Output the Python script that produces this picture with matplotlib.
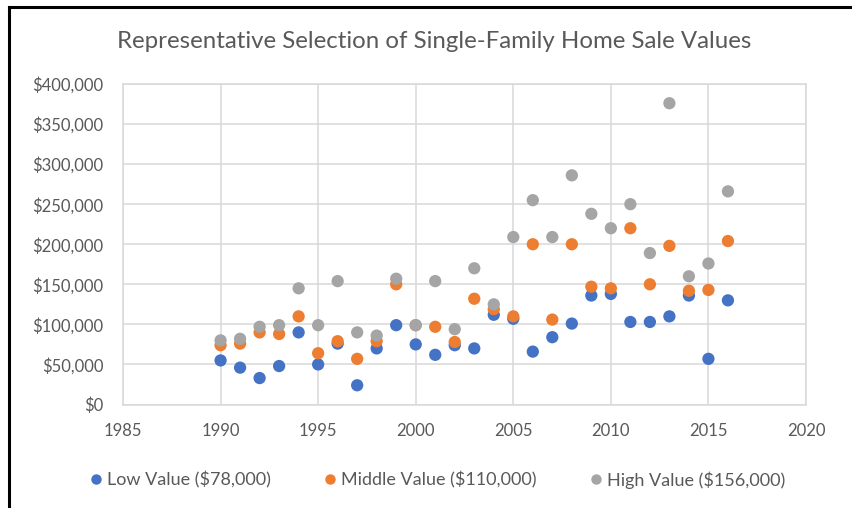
import matplotlib
matplotlib.use("Agg")
import matplotlib.pyplot as plt
from matplotlib.ticker import FuncFormatter, MultipleLocator
from matplotlib.lines import Line2D

years = list(range(1990, 2017))
low_values = [55, 46, 33, 48, 90, 50, 76, 24, 70, 99, 75, 62, 74, 70, 112, 107, 66, 84, 101, 136, 138, 103, 103, 110, 136, 57, 130]
mid_values = [74, 76, 90, 88, 110, 64, 79, 57, 79, 150, 99, 97, 78, 132, 119, 110, 200, 106, 200, 147, 145, 220, 150, 198, 142, 143, 204]
high_values = [80, 82, 97, 99, 145, 99, 154, 90, 86, 157, 99, 154, 94, 170, 125, 209, 255, 209, 286, 238, 220, 250, 189, 376, 160, 176, 266]

series_labels = ["Low Value ($78,000)", "Middle Value ($110,000)", "High Value ($156,000)"]
series_colors = ["#4472C4", "#ED7D31", "#A5A5A5"]
title = "Representative Selection of Single-Family Home Sale Values"

plt.rcParams['font.family'] = ['Lato', 'DejaVu Sans']

fig = plt.figure(figsize=(8.52, 5.08), dpi=100)
ax = fig.add_axes([123/852, 1 - 404.5/508, (806-123)/852, (404.5-84)/508])

for vals, col, lab in zip([low_values, mid_values, high_values], series_colors, series_labels):
    ax.scatter(years, [v * 1000 for v in vals], s=78, color=col, edgecolors='none', zorder=3, label=lab)

ax.set_xlim(1985, 2020)
ax.set_ylim(0, 400000)
ax.xaxis.set_major_locator(MultipleLocator(5))
ax.yaxis.set_major_locator(MultipleLocator(50000))
ax.yaxis.set_major_formatter(FuncFormatter(lambda v, p: f"${int(v):,}"))
ax.grid(True, color="#D9D9D9", linewidth=1.1, zorder=0)
for s in ax.spines.values():
    s.set_color("#D9D9D9")
    s.set_linewidth(1.1)
ax.tick_params(length=0, labelsize=12, labelcolor="#595959")
ax.tick_params(axis='y', pad=14)
ax.tick_params(axis='x', pad=13)

fig.text(434/852, 1 - 41/508, title, ha='center', va='center', fontsize=17.3, color="#595959")

handles = [Line2D([], [], marker='o', linestyle='', markersize=7.5, color=c, markeredgewidth=0) for c in series_colors]
fig.legend(handles, series_labels, loc='center', bbox_to_anchor=(436/852, 1 - 480/508), ncol=3,
           frameon=False, fontsize=13, labelcolor="#595959", handletextpad=0.1, columnspacing=2.8,
           handlelength=1.0)

# screenshot frame lines
fig.add_artist(Line2D([9/852, 1], [1 - 7/508, 1 - 7/508], color='black', linewidth=2.2, transform=fig.transFigure))
fig.add_artist(Line2D([9/852, 9/852], [0, 1 - 7/508], color='black', linewidth=2.2, transform=fig.transFigure))

fig.savefig("out.png", dpi=100)
